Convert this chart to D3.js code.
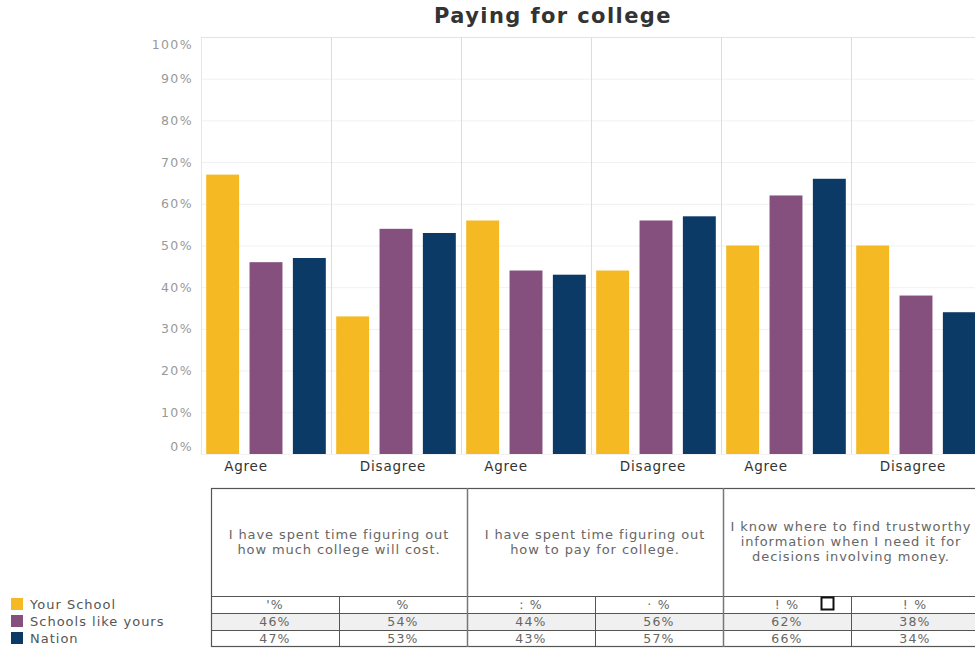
<!DOCTYPE html>
<html><head><meta charset="utf-8">
<script src="https://cdn.jsdelivr.net/npm/d3@7"></script>
<style>
body{margin:0;background:#fff;}
svg{display:block;font-family:"DejaVu Sans",Verdana,sans-serif;}
</style></head>
<body><svg id="chart" width="975" height="650"></svg>
<script>
const title = "Paying for college";
const categories = ["Agree","Disagree","Agree","Disagree","Agree","Disagree"];
const questions = [
  ["I have spent time figuring out","how much college will cost."],
  ["I have spent time figuring out","how to pay for college."],
  ["I know where to find trustworthy","information when I need it for","decisions involving money."]
];
const seriesNames = ["Your School","Schools like yours","Nation"];
const yourSchool = [67,33,56,44,50,50];
const schoolsLike = [46,54,44,56,62,38];
const nation = [47,53,43,57,66,34];
const yourSchoolLabels = ["'%","%",":  %","\u00b7  %","!  %","!  %"];
const yTicks = [0,10,20,30,40,50,60,70,80,90,100];
const colors = ["#F5B923","#86507E","#0B3A66"];

const seriesValues = [yourSchool, schoolsLike, nation];
const svg = d3.select("#chart");

const x = d3.scaleBand().domain(d3.range(categories.length)).range([201, 981]);
const xs = d3.scaleBand().domain(seriesNames).range([0, x.bandwidth()]).paddingInner(0.24).paddingOuter(0.12);
const y = d3.scaleLinear().domain([0,100]).range([454, 37]);

// title
svg.append("text").attr("x",553).attr("y",23).attr("text-anchor","middle")
  .attr("font-size",21).attr("font-weight","bold").attr("fill","#333").attr("letter-spacing",1.4).text(title);

// horizontal gridlines
svg.append("g").selectAll("line").data(yTicks).join("line")
  .attr("x1",201).attr("x2",975).attr("y1",d=>y(d)+0.5).attr("y2",d=>y(d)+0.5)
  .attr("stroke",d=>d===100?"#e3e3e3":"#f1f1f1");
// vertical separators
svg.append("g").selectAll("line").data(d3.range(categories.length)).join("line")
  .attr("x1",d=>x(d)+0.5).attr("x2",d=>x(d)+0.5).attr("y1",y(100)).attr("y2",y(0))
  .attr("stroke",d=>d===0?"#e6e6e6":"#dcdcdc");

// y axis labels
const yAxis = d3.axisLeft(y).tickValues(yTicks).tickFormat(d=>d+"%").tickSize(0).tickPadding(8);
const ya = svg.append("g").attr("transform","translate(201,0)").call(yAxis);
ya.select(".domain").remove();
ya.selectAll("text").attr("font-size",12.5).attr("fill","#999").attr("font-family","DejaVu Sans, sans-serif")
  .attr("dy",d=>d===100?"0.95em":d===0?"-0.3em":"0.32em").attr("letter-spacing",1.4);

// bars
const groups = svg.append("g").selectAll("g").data(categories.map((c,i)=>i)).join("g")
  .attr("transform",i=>`translate(${x(i)},0)`);
groups.selectAll("rect").data(i=>seriesNames.map((s,k)=>({s,k,v:seriesValues[k][i]}))).join("rect")
  .attr("x",d=>xs(d.s)).attr("width",xs.bandwidth())
  .attr("y",d=>y(d.v)).attr("height",d=>y(0)-y(d.v)).attr("fill",d=>colors[d.k]);

// x labels
svg.append("g").selectAll("text").data(categories).join("text")
  .attr("x",(d,i)=>x(i)+x.bandwidth()/2 - (d==="Agree"?20:3)).attr("y",471).attr("text-anchor","middle")
  .attr("font-size",13.5).attr("fill","#333").attr("letter-spacing",0.8).text(d=>d);

// table
const tx = d3.scaleBand().domain(d3.range(categories.length)).range([211, 979]);
const qx = d3.scaleBand().domain(d3.range(questions.length)).range([211, 979]);
const rowY = d3.scaleBand().domain(seriesNames).range([596, 647]);
const table = svg.append("g");
// row 2 shading
table.append("rect").attr("x",211).attr("y",rowY(seriesNames[1])).attr("width",768).attr("height",rowY.bandwidth())
  .attr("fill","#f0f0f0");
// outer box
table.append("rect").attr("x",211.5).attr("y",488.5).attr("width",780).attr("height",158)
  .attr("fill","none").attr("stroke","#555").attr("stroke-width",1.2);
// header bottom line
table.append("line").attr("x1",211).attr("x2",979).attr("y1",596.5).attr("y2",596.5).attr("stroke","#555").attr("stroke-width",1.2);
// row lines
seriesNames.slice(1).forEach(s=>{
  table.append("line").attr("x1",211).attr("x2",979).attr("y1",rowY(s)+0.5).attr("y2",rowY(s)+0.5).attr("stroke","#555");
});
// question dividers
table.selectAll("line.q").data(d3.range(1,questions.length)).join("line").attr("class","q")
  .attr("x1",d=>qx(d)+0.5).attr("x2",d=>qx(d)+0.5).attr("y1",488).attr("y2",647).attr("stroke","#777").attr("stroke-width",1.5);
// column dividers in data rows
table.selectAll("line.c").data(d3.range(1,categories.length,2)).join("line").attr("class","c")
  .attr("x1",d=>tx(d)+0.5).attr("x2",d=>tx(d)+0.5).attr("y1",596).attr("y2",647).attr("stroke","#555");
// question text
questions.forEach((lines,qi)=>{
  const cx = qx(qi)+qx.bandwidth()/2;
  const cy = 542;
  const lh = 15;
  lines.forEach((ln,li)=>{
    table.append("text").attr("x",cx).attr("y",cy+(li-(lines.length-1)/2)*lh+4)
      .attr("text-anchor","middle").attr("font-size",13).attr("fill","#666").attr("letter-spacing",0.9)
      .text(ln);
  });
});
// values
const rows = [yourSchoolLabels, schoolsLike.map(v=>v+"%"), nation.map(v=>v+"%")];
rows.forEach((r,ri)=>{
  r.forEach((t,ci)=>{
    table.append("text").attr("x",tx(ci)+tx.bandwidth()/2).attr("y",rowY(seriesNames[ri])+rowY.bandwidth()/2+4.5)
      .attr("text-anchor","middle").attr("font-size",12.5).attr("fill","#666").attr("letter-spacing",1.2).text(t);
  });
});
// little square artifact
table.append("rect").attr("x",tx(4)+98.5).attr("y",597.5).attr("width",12).attr("height",12)
  .attr("fill","#fff").attr("stroke","#111").attr("stroke-width",2);

// legend
const lg = svg.append("g").selectAll("g").data(seriesNames).join("g")
  .attr("transform",(d,i)=>`translate(11,${598+i*17})`);
lg.append("rect").attr("width",12).attr("height",12).attr("fill",(d,i)=>colors[i]);
lg.append("text").attr("x",19).attr("y",10.5).attr("font-size",13).attr("fill","#555").attr("letter-spacing",1.0).text(d=>d);
</script>
</body></html>
